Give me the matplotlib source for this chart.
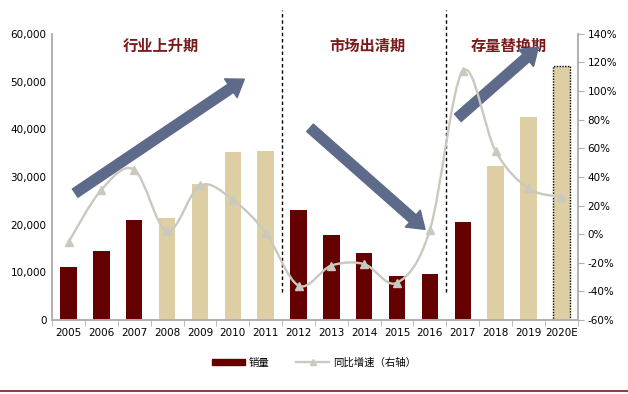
import numpy as np
import matplotlib
matplotlib.use("Agg")
import matplotlib.pyplot as plt
from matplotlib.path import Path
from matplotlib.patches import PathPatch, Patch
from matplotlib.lines import Line2D

plt.rcParams["font.family"] = ["DejaVu Sans", "Noto Sans CJK SC"]

years = ["2005", "2006", "2007", "2008", "2009", "2010", "2011", "2012",
         "2013", "2014", "2015", "2016", "2017", "2018", "2019", "2020E"]
sales = [11000, 14500, 21000, 21400, 28500, 35200, 35400, 23100,
         17800, 14100, 9300, 9600, 20500, 32300, 42500, 53300]
growth = [-5.5, 31, 45, 2, 34, 24, 1, -36,
          -22, -21, -34, 3, 114, 58, 32, 26]
# which bars are drawn light (tan) instead of dark red
light = [0, 0, 0, 1, 1, 1, 1, 0, 0, 0, 0, 0, 0, 1, 1, 1]
phases = ["行业上升期", "市场出清期", "存量替换期"]

DARK = "#650000"
TAN = "#DECEA3"
GREY = "#C9C9BF"
ARROW = "#5E6A8A"
TITLE_RED = "#7A1A1A"
AXIS_GREY = "#B0B0B0"

fig = plt.figure(figsize=(6.28, 3.94), dpi=100)
ax = fig.add_axes([0.083, 0.188, 0.837, 0.726])
ax2 = ax.twinx()

x = np.arange(len(years))
colors = [TAN if l else DARK for l in light]
bars = ax.bar(x, sales, width=0.5, color=colors, zorder=2)
bars[-1].set_edgecolor("black")
bars[-1].set_linestyle((0, (1, 1)))
bars[-1].set_linewidth(1.0)

ax.set_xlim(-0.5, len(years) - 0.5)
ax.set_ylim(0, 60000)
ax.set_yticks(np.arange(0, 60001, 10000))
ax.set_yticklabels([f"{v:,}" for v in range(0, 60001, 10000)], fontsize=7.5)
ax.set_xticks(x)
ax.set_xticklabels(years, fontsize=7.5)
ax.set_xticks(np.arange(-0.5, len(years)), minor=True)
ax.tick_params(axis="x", which="major", length=0, pad=6)
ax.tick_params(axis="x", which="minor", length=4, color=AXIS_GREY)
ax.tick_params(axis="y", length=0, pad=4)

ax2.set_ylim(-60, 140)
ax2.set_yticks(np.arange(-60, 141, 20))
ax2.set_yticklabels([f"{v}%" for v in range(-60, 141, 20)], fontsize=7.5)
ax2.tick_params(axis="y", length=4, color=AXIS_GREY, pad=3)

for a in (ax, ax2):
    a.spines["top"].set_visible(False)
    for s in ("left", "right", "bottom"):
        a.spines[s].set_color(AXIS_GREY)
        a.spines[s].set_linewidth(1.2)

# smoothed growth line (cubic bezier through the data points)
pts = np.column_stack([x, growth]).astype(float)
verts = [pts[0]]
codes = [Path.MOVETO]
n = len(pts)
for i in range(n - 1):
    p0 = pts[max(i - 1, 0)]
    p1 = pts[i]
    p2 = pts[i + 1]
    p3 = pts[min(i + 2, n - 1)]
    c1 = p1 + (p2 - p0) / 6
    c2 = p2 - (p3 - p1) / 6
    verts += [c1, c2, p2]
    codes += [Path.CURVE4] * 3
ax2.add_patch(PathPatch(Path(verts, codes), facecolor="none", edgecolor=GREY,
                        lw=1.7, zorder=3))
ax2.plot(x, growth, linestyle="none", marker="^", markersize=6,
         color=GREY, zorder=4)

# phase separators
for xs in (6.5, 11.5):
    ax.plot([xs, xs], [5900, 65000], color="black", lw=1.0,
            linestyle=(0, (2.5, 2)), clip_on=False, zorder=5)

# phase titles
for label, xc in zip(phases, (2.8, 9.1, 13.4)):
    ax.text(xc, 57500, label, ha="center", va="center", fontsize=11,
            fontweight="bold", color=TITLE_RED, family=["Noto Sans CJK SC"])

# trend arrows
arrow_style = "simple,head_width=1.25,head_length=0.9,tail_width=0.55"
for (x0, y0), (x1, y1) in [((0.2, 26600), (5.35, 50500)),
                           ((7.35, 40300), (10.85, 19000)),
                           ((11.85, 42400), (14.3, 57200))]:
    ax.annotate("", xy=(x1, y1), xytext=(x0, y0),
                arrowprops=dict(arrowstyle=arrow_style, color=ARROW,
                                mutation_scale=13, shrinkA=0, shrinkB=0),
                zorder=6)

# legend
handles = [Patch(color=DARK),
           Line2D([], [], color=GREY, lw=1.7, marker="^", markersize=5)]
fig.legend(handles, ["销量", "同比增速（右轴）"], loc="center",
           bbox_to_anchor=(0.5, 0.08), ncol=2, frameon=False,
           prop={"family": ["Noto Sans CJK SC"], "size": 7.5},
           handlelength=3.2, handleheight=0.5, columnspacing=2.5,
           handletextpad=0.4)

# bottom rule
fig.add_artist(Line2D([0, 1], [0.008, 0.008], color="#8B2A2A", lw=1.3,
                      transform=fig.transFigure))

fig.savefig("out.png", dpi=100)
